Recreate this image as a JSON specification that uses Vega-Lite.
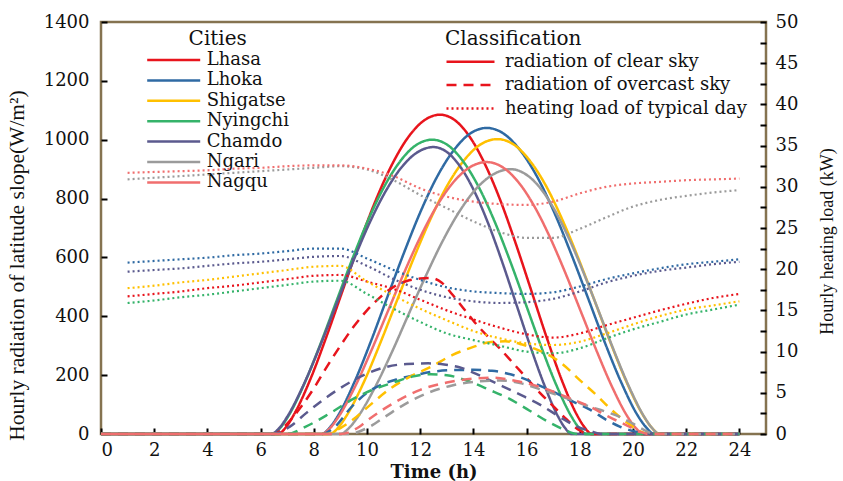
{
"$schema": "https://vega.github.io/schema/vega-lite/v6.json",
"width": 665, "height": 412,
"autosize": "none",
"padding": {"left": 101, "top": 22, "right": 77, "bottom": 47},
"background": "white",
"config": {
  "view": {"stroke": "#857350", "strokeWidth": 2.5},
  "axis": {"domain": false, "ticks": true, "grid": false, "tickColor": "#000", "tickWidth": 2, "tickSize": 6, "offset": -6, "labelColor": "#111", "titleColor": "#111", "labelFont": "DejaVu Serif", "labelFontSize": 18, "zindex": 2}
},
"datasets": {
"clear": [
{"city":"Lhasa","t":0,"v":0},{"city":"Lhasa","t":6.65,"v":0},{"city":"Lhasa","t":6.96,"v":24},{"city":"Lhasa","t":7.26,"v":67},{"city":"Lhasa","t":7.87,"v":186},{"city":"Lhasa","t":8.48,"v":332},{"city":"Lhasa","t":9.09,"v":489},{"city":"Lhasa","t":9.7,"v":645},{"city":"Lhasa","t":10.31,"v":790},{"city":"Lhasa","t":10.92,"v":912},{"city":"Lhasa","t":11.53,"v":1006},{"city":"Lhasa","t":12.14,"v":1065},{"city":"Lhasa","t":12.75,"v":1085},{"city":"Lhasa","t":13.32,"v":1065},{"city":"Lhasa","t":13.89,"v":1006},{"city":"Lhasa","t":14.46,"v":912},{"city":"Lhasa","t":15.03,"v":790},{"city":"Lhasa","t":15.6,"v":645},{"city":"Lhasa","t":16.17,"v":489},{"city":"Lhasa","t":16.74,"v":332},{"city":"Lhasa","t":17.31,"v":186},{"city":"Lhasa","t":17.88,"v":67},{"city":"Lhasa","t":18.17,"v":24},{"city":"Lhasa","t":18.45,"v":0},{"city":"Lhasa","t":24,"v":0},
{"city":"Lhoka","t":0,"v":0},{"city":"Lhoka","t":8.3,"v":0},{"city":"Lhoka","t":8.61,"v":23},{"city":"Lhoka","t":8.92,"v":64},{"city":"Lhoka","t":9.54,"v":179},{"city":"Lhoka","t":10.16,"v":318},{"city":"Lhoka","t":10.78,"v":469},{"city":"Lhoka","t":11.4,"v":618},{"city":"Lhoka","t":12.02,"v":757},{"city":"Lhoka","t":12.64,"v":875},{"city":"Lhoka","t":13.26,"v":964},{"city":"Lhoka","t":13.88,"v":1021},{"city":"Lhoka","t":14.5,"v":1040},{"city":"Lhoka","t":15.13,"v":1021},{"city":"Lhoka","t":15.76,"v":964},{"city":"Lhoka","t":16.39,"v":875},{"city":"Lhoka","t":17.02,"v":757},{"city":"Lhoka","t":17.65,"v":618},{"city":"Lhoka","t":18.28,"v":469},{"city":"Lhoka","t":18.91,"v":318},{"city":"Lhoka","t":19.54,"v":179},{"city":"Lhoka","t":20.17,"v":64},{"city":"Lhoka","t":20.49,"v":23},{"city":"Lhoka","t":20.8,"v":0},{"city":"Lhoka","t":24,"v":0},
{"city":"Shigatse","t":0,"v":0},{"city":"Shigatse","t":8.6,"v":0},{"city":"Shigatse","t":8.92,"v":22},{"city":"Shigatse","t":9.23,"v":62},{"city":"Shigatse","t":9.86,"v":172},{"city":"Shigatse","t":10.49,"v":307},{"city":"Shigatse","t":11.12,"v":452},{"city":"Shigatse","t":11.75,"v":596},{"city":"Shigatse","t":12.38,"v":729},{"city":"Shigatse","t":13.01,"v":843},{"city":"Shigatse","t":13.64,"v":929},{"city":"Shigatse","t":14.27,"v":984},{"city":"Shigatse","t":14.9,"v":1002},{"city":"Shigatse","t":15.51,"v":984},{"city":"Shigatse","t":16.12,"v":929},{"city":"Shigatse","t":16.73,"v":843},{"city":"Shigatse","t":17.34,"v":729},{"city":"Shigatse","t":17.95,"v":596},{"city":"Shigatse","t":18.56,"v":452},{"city":"Shigatse","t":19.17,"v":307},{"city":"Shigatse","t":19.78,"v":172},{"city":"Shigatse","t":20.39,"v":62},{"city":"Shigatse","t":20.7,"v":22},{"city":"Shigatse","t":21,"v":0},{"city":"Shigatse","t":24,"v":0},
{"city":"Nyingchi","t":0,"v":0},{"city":"Nyingchi","t":6.45,"v":0},{"city":"Nyingchi","t":6.75,"v":22},{"city":"Nyingchi","t":7.05,"v":62},{"city":"Nyingchi","t":7.65,"v":172},{"city":"Nyingchi","t":8.25,"v":306},{"city":"Nyingchi","t":8.85,"v":451},{"city":"Nyingchi","t":9.45,"v":595},{"city":"Nyingchi","t":10.05,"v":728},{"city":"Nyingchi","t":10.65,"v":841},{"city":"Nyingchi","t":11.25,"v":927},{"city":"Nyingchi","t":11.85,"v":982},{"city":"Nyingchi","t":12.45,"v":1000},{"city":"Nyingchi","t":13.03,"v":982},{"city":"Nyingchi","t":13.61,"v":927},{"city":"Nyingchi","t":14.19,"v":841},{"city":"Nyingchi","t":14.77,"v":728},{"city":"Nyingchi","t":15.35,"v":595},{"city":"Nyingchi","t":15.93,"v":451},{"city":"Nyingchi","t":16.51,"v":306},{"city":"Nyingchi","t":17.09,"v":172},{"city":"Nyingchi","t":17.67,"v":62},{"city":"Nyingchi","t":17.96,"v":22},{"city":"Nyingchi","t":18.25,"v":0},{"city":"Nyingchi","t":24,"v":0},
{"city":"Chamdo","t":0,"v":0},{"city":"Chamdo","t":6.4,"v":0},{"city":"Chamdo","t":6.71,"v":21},{"city":"Chamdo","t":7.01,"v":60},{"city":"Chamdo","t":7.62,"v":168},{"city":"Chamdo","t":8.23,"v":298},{"city":"Chamdo","t":8.84,"v":439},{"city":"Chamdo","t":9.45,"v":580},{"city":"Chamdo","t":10.06,"v":710},{"city":"Chamdo","t":10.67,"v":820},{"city":"Chamdo","t":11.28,"v":904},{"city":"Chamdo","t":11.89,"v":957},{"city":"Chamdo","t":12.5,"v":975},{"city":"Chamdo","t":13.02,"v":957},{"city":"Chamdo","t":13.54,"v":904},{"city":"Chamdo","t":14.06,"v":820},{"city":"Chamdo","t":14.58,"v":710},{"city":"Chamdo","t":15.1,"v":580},{"city":"Chamdo","t":15.62,"v":439},{"city":"Chamdo","t":16.14,"v":298},{"city":"Chamdo","t":16.66,"v":168},{"city":"Chamdo","t":17.18,"v":60},{"city":"Chamdo","t":17.44,"v":21},{"city":"Chamdo","t":17.7,"v":0},{"city":"Chamdo","t":24,"v":0},
{"city":"Ngari","t":0,"v":0},{"city":"Ngari","t":9,"v":0},{"city":"Ngari","t":9.32,"v":20},{"city":"Ngari","t":9.64,"v":56},{"city":"Ngari","t":10.28,"v":155},{"city":"Ngari","t":10.92,"v":275},{"city":"Ngari","t":11.56,"v":406},{"city":"Ngari","t":12.2,"v":535},{"city":"Ngari","t":12.84,"v":655},{"city":"Ngari","t":13.48,"v":757},{"city":"Ngari","t":14.12,"v":835},{"city":"Ngari","t":14.76,"v":883},{"city":"Ngari","t":15.4,"v":900},{"city":"Ngari","t":15.96,"v":883},{"city":"Ngari","t":16.52,"v":835},{"city":"Ngari","t":17.08,"v":757},{"city":"Ngari","t":17.64,"v":655},{"city":"Ngari","t":18.2,"v":535},{"city":"Ngari","t":18.76,"v":406},{"city":"Ngari","t":19.32,"v":275},{"city":"Ngari","t":19.88,"v":155},{"city":"Ngari","t":20.44,"v":56},{"city":"Ngari","t":20.72,"v":20},{"city":"Ngari","t":21,"v":0},{"city":"Ngari","t":24,"v":0},
{"city":"Nagqu","t":0,"v":0},{"city":"Nagqu","t":8.3,"v":0},{"city":"Nagqu","t":8.61,"v":20},{"city":"Nagqu","t":8.92,"v":57},{"city":"Nagqu","t":9.54,"v":159},{"city":"Nagqu","t":10.16,"v":283},{"city":"Nagqu","t":10.78,"v":416},{"city":"Nagqu","t":11.4,"v":549},{"city":"Nagqu","t":12.02,"v":672},{"city":"Nagqu","t":12.64,"v":777},{"city":"Nagqu","t":13.26,"v":857},{"city":"Nagqu","t":13.88,"v":907},{"city":"Nagqu","t":14.5,"v":924},{"city":"Nagqu","t":15.09,"v":907},{"city":"Nagqu","t":15.68,"v":857},{"city":"Nagqu","t":16.27,"v":777},{"city":"Nagqu","t":16.86,"v":672},{"city":"Nagqu","t":17.45,"v":549},{"city":"Nagqu","t":18.04,"v":416},{"city":"Nagqu","t":18.63,"v":283},{"city":"Nagqu","t":19.22,"v":159},{"city":"Nagqu","t":19.81,"v":57},{"city":"Nagqu","t":20.11,"v":20},{"city":"Nagqu","t":20.4,"v":0},{"city":"Nagqu","t":24,"v":0}
],
"overcast": [
{"city":"Lhasa","t":0,"v":0},{"city":"Lhasa","t":6.5,"v":0},{"city":"Lhasa","t":7,"v":35},{"city":"Lhasa","t":7.5,"v":90},{"city":"Lhasa","t":8,"v":155},{"city":"Lhasa","t":8.5,"v":230},{"city":"Lhasa","t":9,"v":300},{"city":"Lhasa","t":9.5,"v":365},{"city":"Lhasa","t":10,"v":420},{"city":"Lhasa","t":10.5,"v":465},{"city":"Lhasa","t":11,"v":500},{"city":"Lhasa","t":11.5,"v":520},{"city":"Lhasa","t":12,"v":528},{"city":"Lhasa","t":12.4,"v":530},{"city":"Lhasa","t":12.8,"v":515},{"city":"Lhasa","t":13.2,"v":475},{"city":"Lhasa","t":13.6,"v":430},{"city":"Lhasa","t":14,"v":385},{"city":"Lhasa","t":14.5,"v":335},{"city":"Lhasa","t":15,"v":290},{"city":"Lhasa","t":15.5,"v":240},{"city":"Lhasa","t":16,"v":190},{"city":"Lhasa","t":16.5,"v":140},{"city":"Lhasa","t":17,"v":95},{"city":"Lhasa","t":17.5,"v":50},{"city":"Lhasa","t":18,"v":12},{"city":"Lhasa","t":18.3,"v":0},{"city":"Lhasa","t":24,"v":0},
{"city":"Lhoka","t":0,"v":0},{"city":"Lhoka","t":8.3,"v":0},{"city":"Lhoka","t":8.8,"v":25},{"city":"Lhoka","t":9.4,"v":90},{"city":"Lhoka","t":10,"v":140},{"city":"Lhoka","t":10.6,"v":170},{"city":"Lhoka","t":11.1,"v":185},{"city":"Lhoka","t":11.8,"v":200},{"city":"Lhoka","t":12.5,"v":212},{"city":"Lhoka","t":13.2,"v":217},{"city":"Lhoka","t":14,"v":218},{"city":"Lhoka","t":14.7,"v":215},{"city":"Lhoka","t":15.3,"v":205},{"city":"Lhoka","t":15.9,"v":188},{"city":"Lhoka","t":16.6,"v":160},{"city":"Lhoka","t":17.2,"v":135},{"city":"Lhoka","t":17.6,"v":116},{"city":"Lhoka","t":18.4,"v":82},{"city":"Lhoka","t":19,"v":48},{"city":"Lhoka","t":19.5,"v":25},{"city":"Lhoka","t":20,"v":10},{"city":"Lhoka","t":20.4,"v":2},{"city":"Lhoka","t":20.7,"v":0},{"city":"Lhoka","t":24,"v":0},
{"city":"Shigatse","t":0,"v":0},{"city":"Shigatse","t":8.5,"v":0},{"city":"Shigatse","t":9,"v":20},{"city":"Shigatse","t":9.6,"v":58},{"city":"Shigatse","t":10.2,"v":105},{"city":"Shigatse","t":10.9,"v":156},{"city":"Shigatse","t":11.6,"v":194},{"city":"Shigatse","t":12.4,"v":228},{"city":"Shigatse","t":13.2,"v":268},{"city":"Shigatse","t":14,"v":296},{"city":"Shigatse","t":14.6,"v":312},{"city":"Shigatse","t":15.2,"v":315},{"city":"Shigatse","t":15.8,"v":305},{"city":"Shigatse","t":16.3,"v":290},{"city":"Shigatse","t":16.8,"v":270},{"city":"Shigatse","t":17.3,"v":241},{"city":"Shigatse","t":18,"v":183},{"city":"Shigatse","t":18.7,"v":126},{"city":"Shigatse","t":19.1,"v":90},{"city":"Shigatse","t":19.8,"v":37},{"city":"Shigatse","t":20.3,"v":8},{"city":"Shigatse","t":20.6,"v":0},{"city":"Shigatse","t":24,"v":0},
{"city":"Nyingchi","t":0,"v":0},{"city":"Nyingchi","t":7,"v":0},{"city":"Nyingchi","t":7.7,"v":25},{"city":"Nyingchi","t":8.6,"v":70},{"city":"Nyingchi","t":9.5,"v":120},{"city":"Nyingchi","t":10.2,"v":150},{"city":"Nyingchi","t":11,"v":175},{"city":"Nyingchi","t":11.7,"v":195},{"city":"Nyingchi","t":12.4,"v":203},{"city":"Nyingchi","t":13,"v":200},{"city":"Nyingchi","t":13.8,"v":180},{"city":"Nyingchi","t":14.6,"v":150},{"city":"Nyingchi","t":15.3,"v":122},{"city":"Nyingchi","t":16.1,"v":80},{"city":"Nyingchi","t":16.9,"v":37},{"city":"Nyingchi","t":17.4,"v":15},{"city":"Nyingchi","t":17.9,"v":0},{"city":"Nyingchi","t":24,"v":0},
{"city":"Chamdo","t":0,"v":0},{"city":"Chamdo","t":6.5,"v":0},{"city":"Chamdo","t":7.1,"v":25},{"city":"Chamdo","t":7.7,"v":70},{"city":"Chamdo","t":8.5,"v":126},{"city":"Chamdo","t":9.25,"v":170},{"city":"Chamdo","t":10,"v":205},{"city":"Chamdo","t":10.6,"v":225},{"city":"Chamdo","t":11.5,"v":238},{"city":"Chamdo","t":12.3,"v":240},{"city":"Chamdo","t":12.9,"v":236},{"city":"Chamdo","t":13.5,"v":226},{"city":"Chamdo","t":14.3,"v":196},{"city":"Chamdo","t":15.1,"v":162},{"city":"Chamdo","t":15.8,"v":132},{"city":"Chamdo","t":16.5,"v":100},{"city":"Chamdo","t":17.3,"v":55},{"city":"Chamdo","t":17.9,"v":25},{"city":"Chamdo","t":18.4,"v":10},{"city":"Chamdo","t":18.8,"v":0},{"city":"Chamdo","t":24,"v":0},
{"city":"Ngari","t":0,"v":0},{"city":"Ngari","t":9.3,"v":0},{"city":"Ngari","t":10,"v":20},{"city":"Ngari","t":10.7,"v":60},{"city":"Ngari","t":11.4,"v":100},{"city":"Ngari","t":12.3,"v":140},{"city":"Ngari","t":13.2,"v":165},{"city":"Ngari","t":14.1,"v":178},{"city":"Ngari","t":15,"v":182},{"city":"Ngari","t":15.8,"v":172},{"city":"Ngari","t":16.5,"v":152},{"city":"Ngari","t":17.4,"v":125},{"city":"Ngari","t":18.3,"v":95},{"city":"Ngari","t":19,"v":75},{"city":"Ngari","t":19.5,"v":58},{"city":"Ngari","t":20,"v":35},{"city":"Ngari","t":20.5,"v":10},{"city":"Ngari","t":20.8,"v":0},{"city":"Ngari","t":24,"v":0},
{"city":"Nagqu","t":0,"v":0},{"city":"Nagqu","t":9,"v":0},{"city":"Nagqu","t":9.7,"v":24},{"city":"Nagqu","t":10,"v":45},{"city":"Nagqu","t":11,"v":105},{"city":"Nagqu","t":12,"v":150},{"city":"Nagqu","t":13,"v":175},{"city":"Nagqu","t":14,"v":188},{"city":"Nagqu","t":14.75,"v":191},{"city":"Nagqu","t":15.6,"v":180},{"city":"Nagqu","t":16.5,"v":160},{"city":"Nagqu","t":17.5,"v":126},{"city":"Nagqu","t":18.4,"v":92},{"city":"Nagqu","t":19.1,"v":58},{"city":"Nagqu","t":19.8,"v":28},{"city":"Nagqu","t":20.3,"v":6},{"city":"Nagqu","t":20.6,"v":0},{"city":"Nagqu","t":24,"v":0}
],
"heating": [
{"city":"Lhasa","t":1,"v":16.7},{"city":"Lhasa","t":2,"v":17.0},{"city":"Lhasa","t":3,"v":17.3},{"city":"Lhasa","t":4,"v":17.7},{"city":"Lhasa","t":5,"v":18.0},{"city":"Lhasa","t":6,"v":18.4},{"city":"Lhasa","t":7,"v":18.8},{"city":"Lhasa","t":8,"v":19.2},{"city":"Lhasa","t":9,"v":19.3},{"city":"Lhasa","t":10,"v":18.5},{"city":"Lhasa","t":11,"v":17.6},{"city":"Lhasa","t":12,"v":16.3},{"city":"Lhasa","t":13,"v":15.0},{"city":"Lhasa","t":14,"v":13.9},{"city":"Lhasa","t":15,"v":12.9},{"city":"Lhasa","t":16,"v":12.1},{"city":"Lhasa","t":17,"v":11.7},{"city":"Lhasa","t":18,"v":12.2},{"city":"Lhasa","t":19,"v":13.2},{"city":"Lhasa","t":20,"v":14.1},{"city":"Lhasa","t":21,"v":15.0},{"city":"Lhasa","t":22,"v":15.8},{"city":"Lhasa","t":23,"v":16.5},{"city":"Lhasa","t":24,"v":17.0},
{"city":"Lhoka","t":1,"v":20.8},{"city":"Lhoka","t":2,"v":21.0},{"city":"Lhoka","t":3,"v":21.2},{"city":"Lhoka","t":4,"v":21.4},{"city":"Lhoka","t":5,"v":21.7},{"city":"Lhoka","t":6,"v":21.9},{"city":"Lhoka","t":7,"v":22.2},{"city":"Lhoka","t":8,"v":22.5},{"city":"Lhoka","t":9,"v":22.5},{"city":"Lhoka","t":10,"v":21.3},{"city":"Lhoka","t":11,"v":19.9},{"city":"Lhoka","t":12,"v":18.7},{"city":"Lhoka","t":13,"v":17.8},{"city":"Lhoka","t":14,"v":17.3},{"city":"Lhoka","t":15,"v":17.1},{"city":"Lhoka","t":16,"v":17.0},{"city":"Lhoka","t":17,"v":17.2},{"city":"Lhoka","t":18,"v":17.9},{"city":"Lhoka","t":19,"v":18.8},{"city":"Lhoka","t":20,"v":19.5},{"city":"Lhoka","t":21,"v":20.1},{"city":"Lhoka","t":22,"v":20.6},{"city":"Lhoka","t":23,"v":20.9},{"city":"Lhoka","t":24,"v":21.2},
{"city":"Shigatse","t":1,"v":17.7},{"city":"Shigatse","t":2,"v":18.0},{"city":"Shigatse","t":3,"v":18.4},{"city":"Shigatse","t":4,"v":18.7},{"city":"Shigatse","t":5,"v":19.1},{"city":"Shigatse","t":6,"v":19.5},{"city":"Shigatse","t":7,"v":19.9},{"city":"Shigatse","t":8,"v":20.3},{"city":"Shigatse","t":9,"v":20.4},{"city":"Shigatse","t":10,"v":18.5},{"city":"Shigatse","t":11,"v":16.8},{"city":"Shigatse","t":12,"v":15.2},{"city":"Shigatse","t":13,"v":13.8},{"city":"Shigatse","t":14,"v":12.5},{"city":"Shigatse","t":15,"v":11.6},{"city":"Shigatse","t":16,"v":11.0},{"city":"Shigatse","t":17,"v":10.8},{"city":"Shigatse","t":18,"v":11.2},{"city":"Shigatse","t":19,"v":12.2},{"city":"Shigatse","t":20,"v":13.3},{"city":"Shigatse","t":21,"v":14.3},{"city":"Shigatse","t":22,"v":15.1},{"city":"Shigatse","t":23,"v":15.6},{"city":"Shigatse","t":24,"v":16.1},
{"city":"Nyingchi","t":1,"v":15.9},{"city":"Nyingchi","t":2,"v":16.2},{"city":"Nyingchi","t":3,"v":16.6},{"city":"Nyingchi","t":4,"v":16.9},{"city":"Nyingchi","t":5,"v":17.3},{"city":"Nyingchi","t":6,"v":17.7},{"city":"Nyingchi","t":7,"v":18.1},{"city":"Nyingchi","t":8,"v":18.5},{"city":"Nyingchi","t":9,"v":18.6},{"city":"Nyingchi","t":10,"v":17.0},{"city":"Nyingchi","t":11,"v":15.2},{"city":"Nyingchi","t":12,"v":13.6},{"city":"Nyingchi","t":13,"v":12.2},{"city":"Nyingchi","t":14,"v":11.4},{"city":"Nyingchi","t":15,"v":10.7},{"city":"Nyingchi","t":16,"v":10.0},{"city":"Nyingchi","t":17,"v":9.8},{"city":"Nyingchi","t":18,"v":10.4},{"city":"Nyingchi","t":19,"v":11.6},{"city":"Nyingchi","t":20,"v":12.7},{"city":"Nyingchi","t":21,"v":13.6},{"city":"Nyingchi","t":22,"v":14.5},{"city":"Nyingchi","t":23,"v":15.1},{"city":"Nyingchi","t":24,"v":15.7},
{"city":"Chamdo","t":1,"v":19.7},{"city":"Chamdo","t":2,"v":19.9},{"city":"Chamdo","t":3,"v":20.1},{"city":"Chamdo","t":4,"v":20.4},{"city":"Chamdo","t":5,"v":20.7},{"city":"Chamdo","t":6,"v":20.9},{"city":"Chamdo","t":7,"v":21.2},{"city":"Chamdo","t":8,"v":21.5},{"city":"Chamdo","t":9,"v":21.6},{"city":"Chamdo","t":10,"v":20.4},{"city":"Chamdo","t":11,"v":18.8},{"city":"Chamdo","t":12,"v":17.5},{"city":"Chamdo","t":13,"v":16.6},{"city":"Chamdo","t":14,"v":16.1},{"city":"Chamdo","t":15,"v":15.9},{"city":"Chamdo","t":16,"v":16.0},{"city":"Chamdo","t":17,"v":16.4},{"city":"Chamdo","t":18,"v":17.3},{"city":"Chamdo","t":19,"v":18.4},{"city":"Chamdo","t":20,"v":19.2},{"city":"Chamdo","t":21,"v":19.8},{"city":"Chamdo","t":22,"v":20.2},{"city":"Chamdo","t":23,"v":20.6},{"city":"Chamdo","t":24,"v":20.9},
{"city":"Ngari","t":1,"v":30.9},{"city":"Ngari","t":2,"v":31.1},{"city":"Ngari","t":3,"v":31.3},{"city":"Ngari","t":4,"v":31.5},{"city":"Ngari","t":5,"v":31.7},{"city":"Ngari","t":6,"v":31.9},{"city":"Ngari","t":7,"v":32.1},{"city":"Ngari","t":8,"v":32.3},{"city":"Ngari","t":9,"v":32.5},{"city":"Ngari","t":10,"v":32.1},{"city":"Ngari","t":11,"v":30.8},{"city":"Ngari","t":12,"v":29.0},{"city":"Ngari","t":13,"v":27.4},{"city":"Ngari","t":14,"v":25.8},{"city":"Ngari","t":15,"v":24.5},{"city":"Ngari","t":16,"v":23.8},{"city":"Ngari","t":17,"v":23.8},{"city":"Ngari","t":18,"v":24.9},{"city":"Ngari","t":19,"v":26.3},{"city":"Ngari","t":20,"v":27.6},{"city":"Ngari","t":21,"v":28.4},{"city":"Ngari","t":22,"v":28.9},{"city":"Ngari","t":23,"v":29.3},{"city":"Ngari","t":24,"v":29.6},
{"city":"Nagqu","t":1,"v":31.7},{"city":"Nagqu","t":2,"v":31.8},{"city":"Nagqu","t":3,"v":31.9},{"city":"Nagqu","t":4,"v":32.0},{"city":"Nagqu","t":5,"v":32.2},{"city":"Nagqu","t":6,"v":32.3},{"city":"Nagqu","t":7,"v":32.5},{"city":"Nagqu","t":8,"v":32.6},{"city":"Nagqu","t":9,"v":32.6},{"city":"Nagqu","t":10,"v":32.2},{"city":"Nagqu","t":11,"v":31.3},{"city":"Nagqu","t":12,"v":29.8},{"city":"Nagqu","t":13,"v":28.8},{"city":"Nagqu","t":14,"v":28.2},{"city":"Nagqu","t":15,"v":27.9},{"city":"Nagqu","t":16,"v":27.8},{"city":"Nagqu","t":17,"v":28.2},{"city":"Nagqu","t":18,"v":29.2},{"city":"Nagqu","t":19,"v":30.0},{"city":"Nagqu","t":20,"v":30.4},{"city":"Nagqu","t":21,"v":30.6},{"city":"Nagqu","t":22,"v":30.8},{"city":"Nagqu","t":23,"v":30.9},{"city":"Nagqu","t":24,"v":31.0}
]
},
"layer": [
  {
    "layer": [
      {
        "data": {"name": "clear"},
        "mark": {"type": "line", "interpolate": "monotone", "strokeWidth": 2.5},
        "encoding": {
          "x": {"field": "t", "type": "quantitative", "scale": {"domain": [0, 25], "nice": false},
            "axis": {"values": [0,1,2,3,4,5,6,7,8,9,10,11,12,13,14,15,16,17,18,19,20,21,22,23,24],
              "labelExpr": "datum.value % 2 === 0 ? datum.label : ''",
              "labelPadding": 7, "title": "Time (h)", "titleFont": "DejaVu Serif", "titleFontSize": 18, "titleFontWeight": "bold", "titlePadding": 4}},
          "y": {"field": "v", "type": "quantitative", "scale": {"domain": [0, 1400], "nice": false},
            "axis": {"values": [0,100,200,300,400,500,600,700,800,900,1000,1100,1200,1300,1400],
              "labelExpr": "datum.value % 200 === 0 ? datum.label : ''",
              "format": "d",
              "labelPadding": 12, "title": "Hourly radiation of latitude slope(W/m²)", "titleFont": "Liberation Serif", "titleFontSize": 21.5, "titleFontWeight": "normal", "titlePadding": 15, "titleY": 243}},
          "color": {"field": "city", "type": "nominal",
            "scale": {"domain": ["Lhasa","Lhoka","Shigatse","Nyingchi","Chamdo","Ngari","Nagqu"], "range": ["#e8141c","#2f6aa3","#ffc000","#35b36a","#5b5a8e","#9b9b9b","#f06e6e"]},
            "legend": {"title": "Cities", "orient": "none", "legendX": 44.7, "legendY": 7.4, "padding": 0,
              "symbolType": "stroke", "symbolSize": 2809, "symbolStrokeWidth": 2.5, "clipHeight": 18, "rowPadding": 2.4, "labelOffset": 5, "labelLimit": 300,
              "labelFont": "DejaVu Serif", "labelFontSize": 18, "labelColor": "#111", "titleFont": "DejaVu Serif", "titleFontSize": 20, "titleFontWeight": "normal", "titleColor": "#111", "titleAnchor": "middle", "titlePadding": 1.6}},
          "strokeDash": {"datum": "radiation of clear sky", "type": "nominal",
            "scale": {"domain": ["radiation of clear sky","radiation of overcast sky","heating load of typical day"], "range": [[1,0],[10,7],[2,3]]},
            "legend": {"title": "Classification", "orient": "none", "legendX": 344, "legendY": 7.4, "padding": 0,
              "symbolType": "stroke", "symbolSize": 2304, "symbolStrokeWidth": 2.5, "symbolStrokeColor": "#e8141c", "clipHeight": 18, "rowPadding": 5.4, "labelOffset": 9, "labelLimit": 400,
              "labelFont": "DejaVu Serif", "labelFontSize": 18, "labelColor": "#111", "titleFont": "DejaVu Serif", "titleFontSize": 20, "titleFontWeight": "normal", "titleColor": "#111", "titleAnchor": "start", "titlePadding": 3.3}},
          "detail": {"field": "city"}
        }
      },
      {
        "data": {"name": "overcast"},
        "mark": {"type": "line", "interpolate": "monotone", "strokeWidth": 2.5},
        "encoding": {
          "x": {"field": "t", "type": "quantitative"},
          "y": {"field": "v", "type": "quantitative"},
          "color": {"field": "city", "type": "nominal"},
          "strokeDash": {"datum": "radiation of overcast sky", "type": "nominal"},
          "detail": {"field": "city"}
        }
      }
    ]
  },
  {
    "data": {"name": "heating"},
    "mark": {"type": "line", "interpolate": "monotone", "strokeWidth": 2.2},
    "encoding": {
      "x": {"field": "t", "type": "quantitative"},
      "y": {"field": "v", "type": "quantitative", "scale": {"domain": [0, 50], "nice": false},
        "axis": {"orient": "right", "values": [0,2.5,5,7.5,10,12.5,15,17.5,20,22.5,25,27.5,30,32.5,35,37.5,40,42.5,45,47.5,50],
          "labelExpr": "datum.value % 5 === 0 ? datum.label : ''",
          "labelPadding": 9, "title": "Hourly heating load (kW)", "titleFont": "Liberation Serif", "titleFontSize": 18, "titleFontWeight": "normal", "titleAngle": 270, "titleBaseline": "top", "titlePadding": 21, "titleY": 219}},
      "color": {"field": "city", "type": "nominal"},
      "strokeDash": {"datum": "heating load of typical day", "type": "nominal"},
      "detail": {"field": "city"}
    }
  }
],
"resolve": {"scale": {"y": "independent"}, "axis": {"y": "independent"}}
}
